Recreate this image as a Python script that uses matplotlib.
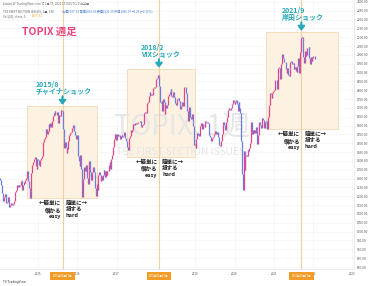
import matplotlib
matplotlib.use("Agg")
import matplotlib.pyplot as plt
import matplotlib.dates as mdates
from matplotlib.patches import Rectangle
import numpy as np
import pandas as pd

plt.rcParams["font.family"] = ["Noto Sans CJK JP", "DejaVu Sans"]

# TOPIX weekly closes, first bar = week ending 2014-01-03
close_2014 = [1302, 1293, 1290, 1263, 1220,
              1198, 1173, 1194, 1211,
              1189, 1164, 1168, 1197,
              1183, 1140, 1153, 1160,
              1165, 1151, 1155, 1176, 1201,
              1226, 1237, 1262, 1255,
              1266, 1261, 1265, 1289,
              1288, 1238, 1266, 1279, 1277,
              1295, 1301, 1343, 1321,
              1289, 1247, 1191, 1229, 1333,
              1378, 1394, 1401, 1410,
              1420, 1373, 1352, 1411]
close_2015 = [1407, 1380, 1371, 1408, 1415,
              1431, 1476, 1505, 1523,
              1535, 1552, 1581, 1551,
              1571, 1612, 1592, 1617,
              1593, 1597, 1624, 1656, 1673,
              1681, 1661, 1661, 1678,
              1630, 1615, 1660, 1654, 1659,
              1688, 1684, 1580, 1537,
              1474, 1505, 1481, 1444,
              1468, 1513, 1547, 1557, 1558,
              1566, 1584, 1603, 1601,
              1572, 1545, 1523, 1527]
close_2016 = [1547, 1430, 1402, 1374, 1432,
              1353, 1196, 1286, 1297,
              1368, 1346, 1345, 1379,
              1301, 1269, 1351, 1399, 1340,
              1290, 1331, 1339, 1367,
              1339, 1326, 1247, 1204,
              1272, 1234, 1322, 1338, 1322,
              1288, 1314, 1295, 1318,
              1347, 1343, 1311, 1345, 1322,
              1341, 1346, 1375, 1393,
              1356, 1413, 1436, 1469,
              1480, 1525, 1550, 1537, 1518]
close_2017 = [1553, 1544, 1542, 1549,
              1523, 1541, 1546, 1535,
              1544, 1562, 1559, 1530, 1512,
              1477, 1460, 1489, 1531,
              1543, 1575, 1566, 1578,
              1612, 1604, 1603, 1614, 1611,
              1614, 1623, 1619, 1620,
              1626, 1597, 1594, 1606,
              1609, 1608, 1672, 1679, 1674,
              1704, 1728, 1736, 1765,
              1791, 1775, 1777, 1775,
              1798, 1815, 1814, 1821, 1817]
close_2018 = [1863, 1872, 1885, 1879,
              1823, 1731, 1730, 1741,
              1681, 1751, 1734, 1665, 1716,
              1701, 1714, 1746, 1770,
              1780, 1791, 1807, 1765,
              1761, 1788, 1772, 1763, 1730,
              1715, 1739, 1753, 1757,
              1742, 1724, 1694, 1710, 1735,
              1712, 1737, 1817, 1817,
              1786, 1702, 1684, 1627,
              1703, 1658, 1650, 1637, 1667,
              1618, 1596, 1488, 1494]
close_2019 = [1471, 1522, 1557, 1548,
              1553, 1539, 1597, 1615,
              1615, 1580, 1611, 1608, 1591,
              1625, 1623, 1613, 1617,
              1617, 1549, 1537, 1533, 1512,
              1531, 1538, 1540, 1551,
              1567, 1551, 1554, 1565,
              1533, 1493, 1490, 1483, 1511,
              1552, 1603, 1621, 1606,
              1573, 1581, 1620, 1648,
              1686, 1701, 1696, 1686, 1699,
              1713, 1722, 1747, 1733]
close_2020 = [1721, 1735, 1745, 1720, 1684,
              1732, 1702, 1674, 1511,
              1471, 1325, 1236, 1459,
              1351, 1431, 1432, 1426,
              1464, 1458, 1471, 1504, 1563,
              1622, 1554, 1575, 1557,
              1578, 1560, 1591, 1573, 1496,
              1546, 1623, 1607, 1601,
              1589, 1641, 1645, 1632,
              1587, 1622, 1621, 1627, 1579,
              1648, 1709, 1717, 1786,
              1777, 1754, 1787, 1794]
close_2021 = [1804, 1854, 1856, 1860, 1808,
              1885, 1929, 1928, 1864,
              1896, 1951, 2008, 1984,
              1971, 1959, 1962, 1920, 1898,
              1929, 1889, 1881, 1922,
              1959, 1966, 1946, 1955,
              1944, 1918, 1931, 1908, 1901,
              1940, 1980, 1896, 1933,
              2015, 2095, 2100, 2090,
              1986, 1957, 2022, 1993, 2001,
              2040, 2038, 2044, 1984,
              1948, 1987, 1965, 1984, 1992]
close_2022 = [1995, 1977]
first_open = 1302

# shocks marked on the chart
shock_dates = ["2015-08-17", "2018-01-29", "2021-09-13"]
shock_names = ["2015/8\nチャイナショック", "2018/2\nVIXショック", "2021/9\n岸田ショック"]
shock_tags = ["2015年08月17日", "2018年01月29日", "2021年09月13日"]
box_start = ["2014-09-20", "2017-04-07", "2020-10-20"]
box_end = ["2016-07-01", "2018-12-30", "2022-08-19"]
box_low = [1190, 1423, 1581]
box_high = [1711, 1921, 2130]

years = list(range(2015, 2024))
year_labels = ["2015", "2016", "2017", "", "2019", "2020", "2021", "2022", "2023"]
price_ticks = list(range(800, 2301, 50))

closes = np.array(close_2014 + close_2015 + close_2016 + close_2017 + close_2018
                  + close_2019 + close_2020 + close_2021 + close_2022, dtype=float)
opens = np.r_[first_open, closes[:-1]]
dates = pd.date_range("2014-01-03", periods=len(closes), freq="W-FRI")
xd = mdates.date2num(dates.to_pydatetime())

W, H = 376, 286
fig = plt.figure(figsize=(W / 100, H / 100), dpi=100)
fig.patch.set_facecolor("white")
ax = fig.add_axes([0, 17 / H, 354 / W, 269 / H])

up_c, dn_c = "#e0468a", "#6a7ee0"
teal = "#27a9b9"
line_c = "#f1cfa0"

# boxes and vertical lines
for i, d in enumerate(shock_dates):
    x0 = mdates.date2num(pd.Timestamp(box_start[i]))
    x1 = mdates.date2num(pd.Timestamp(box_end[i]))
    ax.add_patch(Rectangle((x0, box_low[i]), x1 - x0, box_high[i] - box_low[i],
                           facecolor="#fdf1e1", edgecolor="#f4dab4", lw=0.6, zorder=1))
    ax.axvline(pd.Timestamp(d), color=line_c, lw=0.8, zorder=1.6)

# watermark
ax.text(182 / W, 1 - 127 / H, "TOPIX, 1週", transform=fig.transFigure, ha="center",
        va="center", fontsize=20, color="#e6e6e6", zorder=1.3)
ax.text(180 / W, 1 - 152 / H, "TSE FIRST SECTION ISSUES", transform=fig.transFigure,
        ha="center", va="center", fontsize=7.3, color="#e6e6e6", zorder=1.3)

# candles (bodies)
lo = np.minimum(opens, closes)
hi = np.maximum(opens, closes)
hi = np.where(hi - lo < 2, lo + 2, hi)
cols = np.where(closes >= opens, up_c, dn_c)
ax.vlines(xd, lo, hi, colors=cols, lw=0.9, zorder=2)

# annotations
for i, d in enumerate(shock_dates):
    dt = pd.Timestamp(d)
    ax.annotate("", xy=(dt, box_high[i]), xytext=(0, 7), textcoords="offset points",
                arrowprops=dict(arrowstyle="-|>,head_length=0.25,head_width=0.2",
                                lw=1.5, color=teal, shrinkA=0, shrinkB=0.8),
                zorder=4)
    ax.annotate(shock_names[i], xy=(dt, box_high[i]), xytext=(1, 8),
                textcoords="offset points", ha="center", va="bottom",
                multialignment="left", fontsize=5, fontweight="bold", color=teal,
                linespacing=1.05, zorder=4)
    ax.annotate("←簡単に\n儲かる\neasy", xy=(dt, box_low[i]), xytext=(-1, -1.8),
                textcoords="offset points", ha="right", va="top",
                multialignment="right", fontsize=4, fontweight="bold",
                color="#222222", linespacing=1.2, zorder=4)
    ax.annotate("簡単に→\n損する\nhard", xy=(dt, box_low[i]), xytext=(2.2, -1.8),
                textcoords="offset points", ha="left", va="top",
                multialignment="left", fontsize=4, fontweight="bold",
                color="#222222", linespacing=1.2, zorder=4)
    ax.text(dt, -0.026, shock_tags[i], transform=ax.get_xaxis_transform(),
            ha="center", va="center", fontsize=1.9, color="white", clip_on=False,
            zorder=5, bbox=dict(boxstyle="square,pad=0.9", fc="#f29b26", ec="none"))

# axes
ax.set_xlim(pd.Timestamp("2014-01-13"), pd.Timestamp("2023-01-15"))
ax.set_ylim(788.7, 2311)
ax.set_xticks([pd.Timestamp(f"{y}-01-01") for y in years])
ax.set_xticklabels(year_labels, fontsize=2.2, color="#555555")
ax.yaxis.tick_right()
ax.set_yticks(price_ticks)
ax.set_yticklabels([f"{v:.2f}" for v in price_ticks], fontsize=2.3, color="#555555")
ax.tick_params(length=0, pad=2)
ax.tick_params(axis="x", pad=2.2)
ax.grid(color="#f2f3f6", lw=0.4)
ax.set_axisbelow(True)
for s in ["top", "left"]:
    ax.spines[s].set_visible(False)
for s in ["bottom", "right"]:
    ax.spines[s].set_color("#e3e5ea")
    ax.spines[s].set_linewidth(0.5)

# header and titles
fig.text(3 / W, 1 - 4 / H, "kunisu が TradingView.com で 1月 15, 2022 17:04 UTC+9 に公開",
         fontsize=2.2, color="#666666", va="center")
fig.text(3 / W, 1 - 11 / H, "TSE FIRST SECTION ISSUES, 1週, TSE", fontsize=2.2,
         color="#666666", va="center")
fig.text(62 / W, 1 - 11 / H,
         "始値1977.23 高値2006.60 安値1922.35 終値1986.97 −6.23 (−0.31%)",
         fontsize=2.2, color="#4a7fd4", va="center")
fig.text(3 / W, 1 - 16 / H, "Vol (20), close, 0", fontsize=2.2, color="#666666",
         va="center")
fig.text(32 / W, 1 - 16 / H, "1977.31", fontsize=2.2, color="#f0a020", va="center")
fig.text(22 / W, 1 - 32 / H, "TOPIX 週足", fontsize=7.5, fontweight="bold",
         color="#e8467c", va="center")
fig.text(3 / W, 1 - 282 / H, "TV TradingView", fontsize=2.3, color="#333333",
         va="center")

fig.savefig("out.png", dpi=100)
